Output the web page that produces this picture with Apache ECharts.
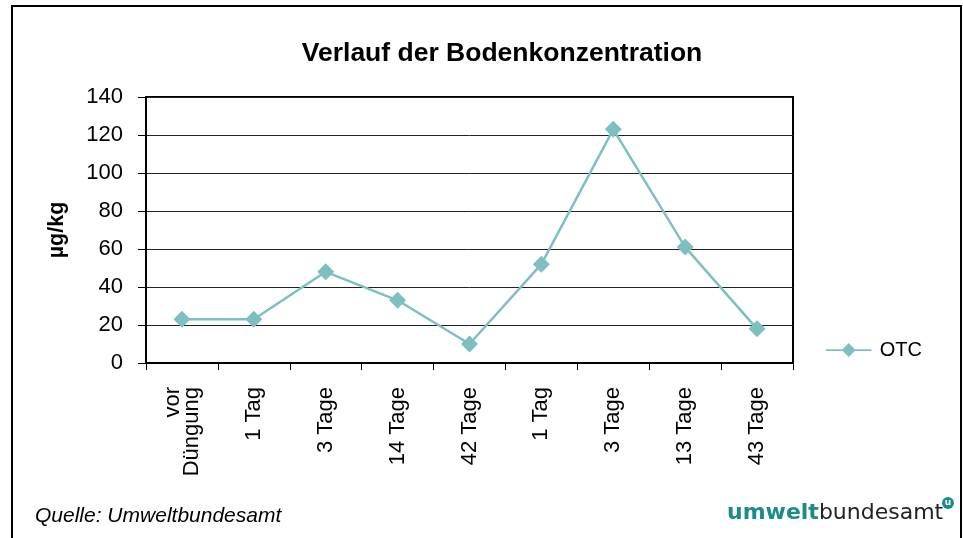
<!DOCTYPE html>
<html>
<head>
<meta charset="utf-8">
<script src="https://cdn.jsdelivr.net/npm/echarts@6/dist/echarts.min.js"></script>
<style>
  html, body { margin: 0; padding: 0; background: #fff; }
  #main { width: 963px; height: 538px; }
</style>
</head>
<body>
<div id="main"></div>
<script>
// x categories (two series of dates: after 1st and 2nd fertilisation)
var categories = ["vor\nDüngung", "1 Tag", "3 Tage", "14 Tage", "42 Tage", "1 Tag", "3 Tage", "13 Tage", "43 Tage"];
var otcValues = [23, 23, 48, 33, 10, 52, 123, 61, 18];
var seriesName = "OTC";
var yMin = 0, yMax = 140, yStep = 20;

var lineColor = "#7dc0bf";
var chart = echarts.init(document.getElementById("main"));

chart.setOption({
  animation: false,
  textStyle: { fontFamily: "Liberation Sans, Arial, sans-serif" },
  title: {
    text: "Verlauf der Bodenkonzentration",
    left: 497,
    top: 35,
    textAlign: "center",
    textStyle: { fontSize: 26.5, fontWeight: "bold", color: "#000" }
  },
  legend: {
    left: 821,
    top: 335,
    itemWidth: 52,
    itemHeight: 14,
    itemGap: 6,
    textStyle: { fontSize: 20, color: "#000", padding: [0, 0, 0, 0] },
    // line with diamond marker, like the series
    data: [{ name: seriesName, icon: "path://M0,6 L19,6 L26,-1 L33,6 L52,6 L52,8 L33,8 L26,15 L19,8 L0,8 Z" }]
  },
  grid: {
    left: 146,
    right: 170,
    top: 97,
    bottom: 175,
    show: true,
    borderColor: "#000",
    borderWidth: 2,
    backgroundColor: "transparent"
  },
  xAxis: {
    type: "category",
    data: categories,
    boundaryGap: true,
    axisLine: { lineStyle: { color: "#000", width: 2 } },
    axisTick: { show: true, inside: false, length: 7, lineStyle: { color: "#000" } },
    axisLabel: {
      rotate: 90,
      fontSize: 22,
      color: "#000",
      margin: 24,
      lineHeight: 19,
      interval: 0
    }
  },
  yAxis: {
    type: "value",
    min: yMin,
    max: yMax,
    interval: yStep,
    name: "µg/kg",
    nameLocation: "middle",
    nameGap: 78,
    nameRotate: 90,
    nameTextStyle: { fontSize: 21.5, fontWeight: "bold", color: "#000" },
    axisLine: { show: true, lineStyle: { color: "#000", width: 2 } },
    axisTick: { show: true, inside: false, length: 8, lineStyle: { color: "#000" } },
    axisLabel: { fontSize: 22, color: "#000", margin: 23 },
    splitLine: { show: true, lineStyle: { color: "#222", width: 1 } }
  },
  series: [{
    name: seriesName,
    type: "line",
    data: otcValues,
    symbol: "diamond",
    symbolSize: 17,
    lineStyle: { color: lineColor, width: 2.5 },
    itemStyle: { color: lineColor },
    emphasis: { disabled: true }
  }],
  graphic: [
    {
      type: "rect",
      shape: { x: 12, y: 6, width: 949, height: 540 },
      style: { fill: "none", stroke: "#000", lineWidth: 2 },
      silent: true
    },
    {
      type: "text",
      left: 35,
      top: 506,
      style: {
        text: "Quelle: Umweltbundesamt",
        font: "italic 21px Liberation Sans, Arial, sans-serif",
        fill: "#000"
      }
    },
    {
      type: "text",
      left: 727,
      top: 502,
      style: {
        text: "{a|umwelt}{b|bundesamt}",
        rich: {
          a: { fontSize: 22, fontWeight: "bold", fill: "#1b8c8a", fontFamily: "DejaVu Sans, sans-serif" },
          b: { fontSize: 22, fill: "#222", fontFamily: "DejaVu Sans, sans-serif" }
        }
      }
    },
    {
      type: "circle",
      shape: { cx: 948, cy: 503, r: 6 },
      style: { fill: "#1b8c8a" }
    },
    {
      type: "text",
      x: 948,
      y: 503,
      style: {
        text: "u",
        align: "center",
        verticalAlign: "middle",
        font: "bold 9px DejaVu Sans, sans-serif",
        fill: "#fff"
      }
    }
  ]
});
</script>
</body>
</html>
